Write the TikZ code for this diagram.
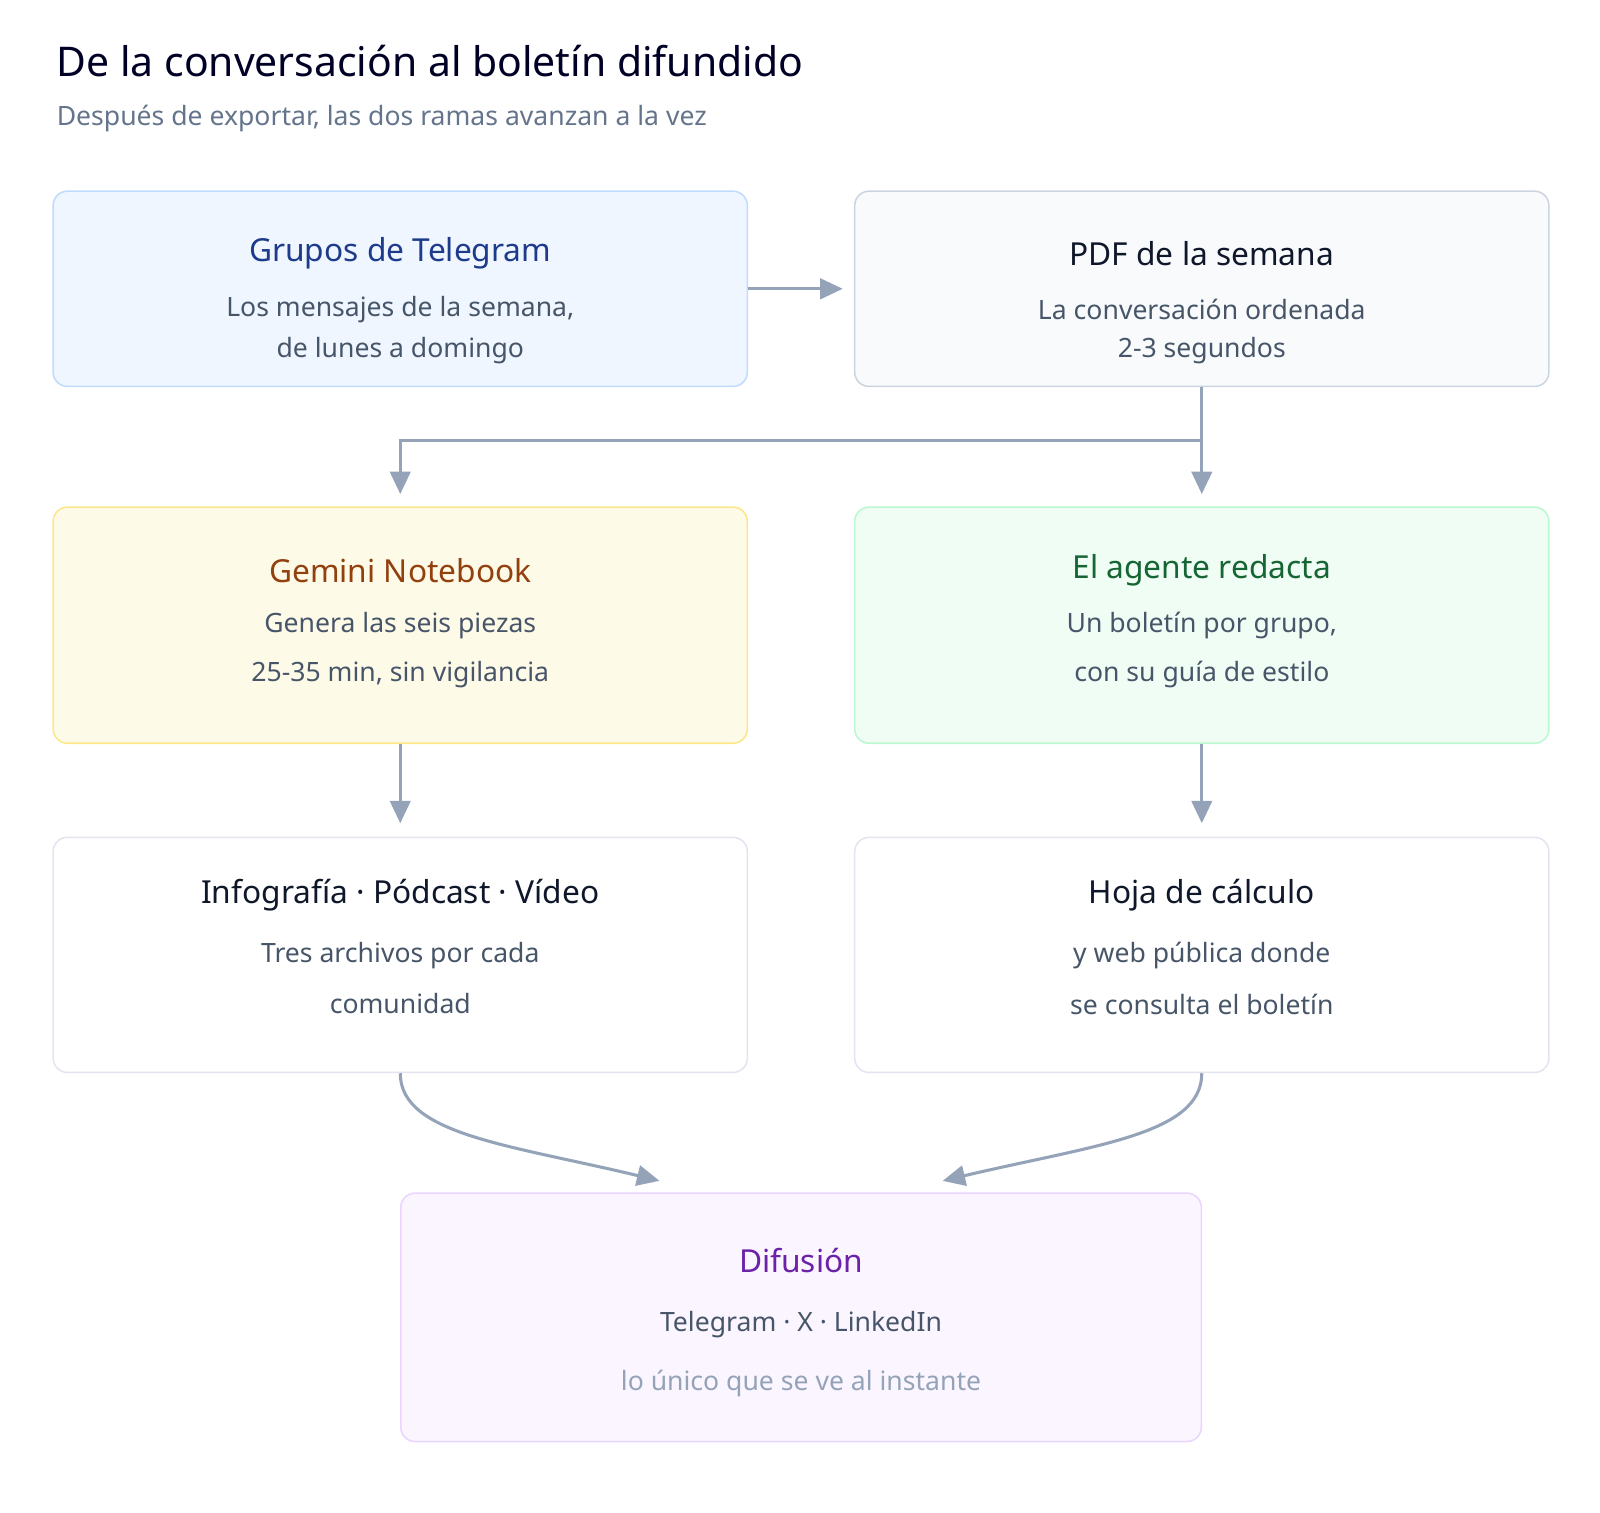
\documentclass[tikz,border=0pt]{standalone}
\usepackage{fontspec}
\setmainfont{Noto Sans}
\usetikzlibrary{arrows.meta}
\definecolor{arr}{HTML}{94A3B8}
\definecolor{body}{HTML}{475569}
\begin{document}
\begin{tikzpicture}[x=1pt,y=-1pt,
  box/.style={draw,rounded corners=14pt,line width=1.5pt,minimum width=679pt,inner sep=0pt},
  ttl/.style={font=\fontsize{31}{36}\selectfont},
  bd/.style={font=\fontsize{26}{30}\selectfont,text=body},
  con/.style={draw=arr,line width=3pt,-{Triangle[length=22pt,width=20pt]}}]
\useasboundingbox (0,0) rectangle (1565,1479);
\node[anchor=west,font=\fontsize{40}{46}\selectfont,text=black!85!blue] at (52,60) {De la conversación al boletín difundido};
\node[anchor=west,font=\fontsize{26}{30}\selectfont,text={rgb,255:red,100;green,116;blue,139}] at (52,116) {Después de exportar, las dos ramas avanzan a la vez};
% boxes
\node[box,minimum height=191pt,fill={rgb,255:red,239;green,246;blue,255},draw={rgb,255:red,191;green,219;blue,254}] (tg) at (391.5,282.5) {};
\node[box,minimum height=191pt,fill={rgb,255:red,248;green,250;blue,252},draw={rgb,255:red,203;green,213;blue,225}] (pdf) at (1175.5,282.5) {};
\node[box,minimum height=231pt,fill={rgb,255:red,254;green,250;blue,232},draw={rgb,255:red,253;green,230;blue,138}] (gem) at (391.5,611.5) {};
\node[box,minimum height=231pt,fill={rgb,255:red,240;green,253;blue,244},draw={rgb,255:red,187;green,247;blue,208}] (ag) at (1175.5,611.5) {};
\node[box,minimum height=230pt,fill=white,draw={rgb,255:red,226;green,228;blue,240}] (inf) at (391.5,934) {};
\node[box,minimum height=230pt,fill=white,draw={rgb,255:red,226;green,228;blue,240}] (hoja) at (1175.5,934) {};
\node[box,minimum width=783pt,minimum height=243pt,fill={rgb,255:red,250;green,245;blue,255},draw={rgb,255:red,233;green,213;blue,255}] (dif) at (783.5,1288.5) {};
% texts
\node[ttl,text={rgb,255:red,30;green,58;blue,138}] (t1) at (391.5,248) {Grupos de Telegram};
\node[bd] (b1a) at (391.5,303) {Los mensajes de la semana,};
\node[bd] (b1b) at (391.5,343) {de lunes a domingo};
\node[ttl,text={rgb,255:red,15;green,23;blue,42}] (t2) at (1175.5,248) {PDF de la semana};
\node[bd] (b2a) at (1175.5,303) {La conversación ordenada};
\node[bd] (b2b) at (1175.5,343) {2-3 segundos};
\node[ttl,text={rgb,255:red,146;green,64;blue,14}] (t3) at (391.5,558) {Gemini Notebook};
\node[bd] (b3a) at (391.5,612) {Genera las seis piezas};
\node[bd] (b3b) at (391.5,660) {25-35 min, sin vigilancia};
\node[ttl,text={rgb,255:red,22;green,101;blue,52}] (t4) at (1175.5,558) {El agente redacta};
\node[bd] (b4a) at (1175.5,612) {Un boletín por grupo,};
\node[bd] (b4b) at (1175.5,660) {con su guía de estilo};
\node[ttl,text={rgb,255:red,15;green,23;blue,42}] (t5) at (391.5,876) {Infografía · Pódcast · Vídeo};
\node[bd] (b5a) at (391.5,935) {Tres archivos por cada};
\node[bd] (b5b) at (391.5,982) {comunidad};
\node[ttl,text={rgb,255:red,15;green,23;blue,42}] (t6) at (1175.5,876) {Hoja de cálculo};
\node[bd] (b6a) at (1175.5,935) {y web pública donde};
\node[bd] (b6b) at (1175.5,982) {se consulta el boletín};
\node[ttl,text={rgb,255:red,107;green,33;blue,168}] (t7) at (783.5,1233) {Difusión};
\node[bd] (b7a) at (783.5,1296) {Telegram · X · LinkedIn};
\node[bd,text=arr] (b7b) at (783.5,1353) {lo único que se ve al instante};
% connectors
\coordinate (jr) at (1175.5,431);
\coordinate (jl) at (391.5,431);
\draw[con,shorten >=11pt] (tg.east) -- (pdf.west);
\draw[con,shorten >=12pt] (pdf.south) -- (ag.north);
\draw[con,shorten >=12pt] (jr) -- (jl) -- (gem.north);
\draw[con,shorten >=13pt] (gem.south) -- (inf.north);
\draw[con,shorten >=13pt] (ag.south) -- (hoja.north);
\draw[con] (inf.south) .. controls (391.5,1110) and (500,1120) .. (645,1155);
\draw[con] (hoja.south) .. controls (1175.5,1110) and (1070,1120) .. (922,1155);
\end{tikzpicture}
\end{document}
